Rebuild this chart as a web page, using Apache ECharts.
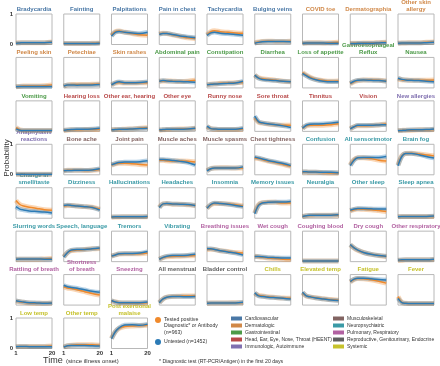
<!DOCTYPE html>
<html>
<head>
<meta charset="utf-8">
<script src="https://cdn.jsdelivr.net/npm/echarts@6/dist/echarts.min.js"></script>
<style>
  html, body { margin: 0; padding: 0; background: #fff; }
  #chart { width: 440px; height: 366px; }
</style>
</head>
<body>
<div id="chart"></div>
<script>
// days sampled along the x axis (time since illness onset)
var days = [1, 3, 5, 8, 12, 16, 20]

var symptoms = [
  'Bradycardia', 'Fainting', 'Palpitations', 'Pain in chest', 'Tachycardia', 'Bulging veins', 'COVID toe', 'Dermatographia', 'Other skin\nallergy',
  'Peeling skin', 'Petechiae', 'Skin rashes', 'Abdominal pain', 'Constipation', 'Diarrhea', 'Loss of appetite', 'Gastroesophageal\nReflux', 'Nausea',
  'Vomiting', 'Hearing loss', 'Other ear, hearing', 'Other eye', 'Runny nose', 'Sore throat', 'Tinnitus', 'Vision', 'New allergies',
  'Anaphylaxis\nreactions', 'Bone ache', 'Joint pain', 'Muscle aches', 'Muscle spasms', 'Chest tightness', 'Confusion', 'All sensorimotor', 'Brain fog',
  'Change in\nsmell/taste', 'Dizziness', 'Hallucinations', 'Headaches', 'Insomnia', 'Memory issues', 'Neuralgia', 'Other sleep', 'Sleep apnea',
  'Slurring words', 'Speech, language', 'Tremors', 'Vibrating', 'Breathing issues', 'Wet cough', 'Coughing blood', 'Dry cough', 'Other respiratory',
  'Rattling of breath', 'Shortness\nof breath', 'Sneezing', 'All menstrual', 'Bladder control', 'Chills', 'Elevated temp', 'Fatigue', 'Fever',
  'Low temp', 'Other temp', 'Post exertional\nmalaise',
]

// index into categories for each symptom
var groups = [
  0, 0, 0, 0, 0, 0, 1, 1, 1,
  1, 1, 1, 2, 2, 2, 2, 2, 2,
  2, 3, 3, 3, 3, 3, 3, 3, 4,
  4, 5, 5, 5, 5, 5, 6, 6, 6,
  6, 6, 6, 6, 6, 6, 6, 6, 6,
  6, 6, 6, 6, 7, 7, 7, 7, 7,
  7, 7, 7, 8, 8, 9, 9, 9, 9,
  9, 9, 9,
]

var categories = [
  'Cardiovascular', 'Dermatologic', 'Gastrointestinal', 'Head, Ear, Eye, Nose, Throat (HEENT)', 'Immunologic, Autoimmune',
  'Musculoskeletal', 'Neuropsychiatric', 'Pulmonary, Respiratory', 'Reproductive, Genitourinary, Endocrine', 'Systemic',
]
var categoryColors = ['#4a78a6', '#d08848', '#4c9a48', '#b84848', '#8070b0', '#826462', '#3a9aa6', '#b262a2', '#606060', '#c6c22c']

// probability, tested positive (orange)
var tested = [
  [0.05, 0.06, 0.06, 0.06, 0.06, 0.06, 0.08], [0.03, 0.03, 0.03, 0.03, 0.03, 0.04, 0.05], [0.3, 0.42, 0.44, 0.4, 0.36, 0.32, 0.3],
  [0.35, 0.37, 0.36, 0.32, 0.27, 0.22, 0.2], [0.32, 0.42, 0.45, 0.42, 0.4, 0.38, 0.37], [0.05, 0.08, 0.1, 0.11, 0.1, 0.1, 0.11],
  [0.04, 0.05, 0.06, 0.06, 0.05, 0.06, 0.07], [0.03, 0.04, 0.04, 0.05, 0.05, 0.06, 0.07], [0.04, 0.05, 0.05, 0.06, 0.06, 0.07, 0.08],

  [0.04, 0.05, 0.06, 0.06, 0.06, 0.07, 0.1], [0.06, 0.1, 0.11, 0.11, 0.11, 0.12, 0.13], [0.1, 0.16, 0.18, 0.16, 0.16, 0.17, 0.17],
  [0.22, 0.23, 0.23, 0.22, 0.21, 0.22, 0.25], [0.1, 0.12, 0.13, 0.15, 0.16, 0.17, 0.18], [0.42, 0.33, 0.3, 0.28, 0.25, 0.22, 0.2],
  [0.5, 0.42, 0.35, 0.28, 0.24, 0.22, 0.23], [0.13, 0.2, 0.24, 0.26, 0.26, 0.25, 0.23], [0.3, 0.27, 0.26, 0.25, 0.25, 0.25, 0.26],

  [0.12, 0.05, 0.03, 0.03, 0.03, 0.03, 0.03], [0.03, 0.04, 0.05, 0.05, 0.06, 0.06, 0.07], [0.05, 0.06, 0.06, 0.07, 0.08, 0.1, 0.12],
  [0.04, 0.05, 0.06, 0.07, 0.08, 0.08, 0.1], [0.15, 0.09, 0.07, 0.06, 0.06, 0.06, 0.08], [0.45, 0.3, 0.27, 0.24, 0.22, 0.2, 0.2],
  [0.1, 0.18, 0.2, 0.2, 0.2, 0.22, 0.25], [0.08, 0.15, 0.18, 0.18, 0.19, 0.21, 0.24], [0.02, 0.03, 0.04, 0.04, 0.05, 0.05, 0.06],

  [0.02, 0.02, 0.02, 0.02, 0.02, 0.02, 0.02], [0.13, 0.15, 0.15, 0.15, 0.14, 0.15, 0.17], [0.32, 0.36, 0.38, 0.38, 0.36, 0.34, 0.32],
  [0.48, 0.48, 0.46, 0.45, 0.45, 0.44, 0.42], [0.14, 0.2, 0.22, 0.23, 0.23, 0.22, 0.22], [0.55, 0.53, 0.5, 0.45, 0.4, 0.34, 0.28],
  [0.09, 0.09, 0.08, 0.08, 0.07, 0.06, 0.06], [0.32, 0.5, 0.56, 0.56, 0.53, 0.48, 0.45], [0.32, 0.62, 0.7, 0.71, 0.68, 0.65, 0.62],

  [0.58, 0.45, 0.4, 0.36, 0.32, 0.28, 0.26], [0.4, 0.42, 0.42, 0.4, 0.38, 0.36, 0.3], [0.04, 0.04, 0.04, 0.05, 0.05, 0.05, 0.05],
  [0.36, 0.47, 0.48, 0.46, 0.46, 0.44, 0.42], [0.33, 0.44, 0.48, 0.48, 0.47, 0.44, 0.4], [0.17, 0.44, 0.51, 0.52, 0.52, 0.5, 0.5],
  [0.05, 0.08, 0.09, 0.1, 0.1, 0.1, 0.1], [0.24, 0.28, 0.3, 0.29, 0.28, 0.25, 0.22], [0.05, 0.06, 0.06, 0.06, 0.06, 0.06, 0.06],

  [0.08, 0.08, 0.08, 0.08, 0.08, 0.09, 0.1], [0.16, 0.3, 0.36, 0.38, 0.4, 0.42, 0.43], [0.18, 0.22, 0.25, 0.26, 0.26, 0.26, 0.28],
  [0.08, 0.13, 0.16, 0.17, 0.18, 0.19, 0.2], [0.4, 0.41, 0.4, 0.36, 0.33, 0.3, 0.28], [0.18, 0.16, 0.14, 0.12, 0.1, 0.08, 0.07],
  [0.02, 0.02, 0.02, 0.02, 0.02, 0.02, 0.02], [0.55, 0.45, 0.37, 0.3, 0.24, 0.2, 0.17], [0.05, 0.05, 0.06, 0.06, 0.06, 0.06, 0.07],

  [0.13, 0.11, 0.09, 0.07, 0.06, 0.06, 0.07], [0.6, 0.56, 0.54, 0.5, 0.44, 0.38, 0.33], [0.14, 0.1, 0.08, 0.07, 0.07, 0.07, 0.08],
  [0.08, 0.2, 0.26, 0.28, 0.29, 0.3, 0.3], [0.06, 0.07, 0.07, 0.07, 0.07, 0.08, 0.08], [0.38, 0.32, 0.3, 0.27, 0.25, 0.23, 0.22],
  [0.4, 0.3, 0.27, 0.24, 0.21, 0.18, 0.16], [0.76, 0.84, 0.87, 0.86, 0.83, 0.78, 0.72], [0.28, 0.09, 0.06, 0.05, 0.05, 0.05, 0.05],

  [0.06, 0.07, 0.07, 0.07, 0.07, 0.07, 0.08], [0.05, 0.09, 0.11, 0.12, 0.12, 0.12, 0.11], [0.33, 0.55, 0.66, 0.72, 0.74, 0.75, 0.76],
]

// probability, untested (blue)
var untested = [
  [0.04, 0.05, 0.06, 0.06, 0.06, 0.06, 0.07], [0.03, 0.03, 0.03, 0.03, 0.03, 0.03, 0.04], [0.28, 0.4, 0.43, 0.4, 0.38, 0.36, 0.4],
  [0.33, 0.36, 0.36, 0.33, 0.28, 0.25, 0.22], [0.3, 0.38, 0.4, 0.37, 0.35, 0.33, 0.3], [0.04, 0.07, 0.09, 0.1, 0.1, 0.1, 0.09],
  [0.04, 0.05, 0.05, 0.05, 0.05, 0.04, 0.04], [0.03, 0.03, 0.04, 0.04, 0.04, 0.05, 0.06], [0.04, 0.05, 0.05, 0.05, 0.05, 0.06, 0.07],

  [0.04, 0.05, 0.05, 0.05, 0.05, 0.05, 0.05], [0.06, 0.1, 0.1, 0.09, 0.1, 0.1, 0.11], [0.1, 0.17, 0.2, 0.17, 0.17, 0.18, 0.2],
  [0.22, 0.24, 0.23, 0.22, 0.21, 0.2, 0.19], [0.1, 0.12, 0.13, 0.14, 0.15, 0.16, 0.22], [0.42, 0.32, 0.28, 0.26, 0.24, 0.22, 0.2],
  [0.48, 0.4, 0.33, 0.27, 0.22, 0.2, 0.2], [0.15, 0.22, 0.25, 0.26, 0.25, 0.24, 0.22], [0.32, 0.28, 0.26, 0.25, 0.24, 0.22, 0.2],

  [0.08, 0.04, 0.03, 0.03, 0.03, 0.03, 0.03], [0.04, 0.05, 0.06, 0.07, 0.07, 0.08, 0.1], [0.05, 0.06, 0.07, 0.07, 0.08, 0.09, 0.1],
  [0.05, 0.06, 0.07, 0.07, 0.07, 0.08, 0.1], [0.17, 0.09, 0.08, 0.07, 0.07, 0.07, 0.1], [0.5, 0.32, 0.28, 0.25, 0.22, 0.18, 0.13],
  [0.1, 0.2, 0.23, 0.24, 0.25, 0.27, 0.3], [0.08, 0.15, 0.2, 0.2, 0.2, 0.21, 0.22], [0.02, 0.03, 0.04, 0.05, 0.05, 0.06, 0.08],

  [0.02, 0.02, 0.02, 0.02, 0.02, 0.02, 0.02], [0.13, 0.14, 0.14, 0.15, 0.15, 0.16, 0.2], [0.33, 0.37, 0.4, 0.42, 0.42, 0.43, 0.46],
  [0.5, 0.5, 0.49, 0.47, 0.44, 0.4, 0.32], [0.13, 0.2, 0.22, 0.22, 0.22, 0.22, 0.26], [0.58, 0.55, 0.52, 0.47, 0.42, 0.37, 0.3],
  [0.1, 0.1, 0.09, 0.09, 0.08, 0.08, 0.07], [0.3, 0.48, 0.56, 0.57, 0.57, 0.57, 0.6], [0.3, 0.6, 0.7, 0.7, 0.66, 0.6, 0.55],

  [0.38, 0.3, 0.27, 0.24, 0.22, 0.2, 0.17], [0.42, 0.43, 0.42, 0.4, 0.38, 0.35, 0.27], [0.04, 0.05, 0.05, 0.05, 0.05, 0.05, 0.06],
  [0.35, 0.47, 0.48, 0.47, 0.46, 0.45, 0.42], [0.33, 0.45, 0.5, 0.48, 0.46, 0.42, 0.38], [0.15, 0.42, 0.5, 0.52, 0.53, 0.53, 0.55],
  [0.06, 0.08, 0.1, 0.1, 0.1, 0.1, 0.11], [0.26, 0.3, 0.32, 0.32, 0.31, 0.3, 0.3], [0.05, 0.06, 0.06, 0.06, 0.06, 0.06, 0.07],

  [0.08, 0.09, 0.09, 0.09, 0.09, 0.08, 0.08], [0.15, 0.3, 0.38, 0.4, 0.4, 0.42, 0.45], [0.18, 0.22, 0.26, 0.27, 0.27, 0.28, 0.33],
  [0.08, 0.14, 0.18, 0.2, 0.2, 0.21, 0.24], [0.42, 0.42, 0.4, 0.36, 0.32, 0.28, 0.22], [0.17, 0.17, 0.16, 0.14, 0.13, 0.12, 0.12],
  [0.02, 0.02, 0.02, 0.02, 0.02, 0.02, 0.02], [0.56, 0.45, 0.38, 0.3, 0.24, 0.2, 0.18], [0.05, 0.06, 0.06, 0.06, 0.06, 0.06, 0.08],

  [0.14, 0.12, 0.1, 0.08, 0.07, 0.06, 0.07], [0.65, 0.6, 0.58, 0.55, 0.5, 0.45, 0.42], [0.15, 0.1, 0.08, 0.08, 0.08, 0.08, 0.1],
  [0.08, 0.2, 0.26, 0.28, 0.28, 0.27, 0.28], [0.06, 0.07, 0.07, 0.07, 0.07, 0.07, 0.09], [0.4, 0.3, 0.28, 0.26, 0.24, 0.22, 0.2],
  [0.42, 0.3, 0.27, 0.23, 0.2, 0.17, 0.15], [0.77, 0.85, 0.88, 0.88, 0.86, 0.84, 0.82], [0.22, 0.08, 0.06, 0.05, 0.05, 0.05, 0.05],

  [0.06, 0.07, 0.07, 0.06, 0.06, 0.06, 0.06], [0.05, 0.09, 0.1, 0.1, 0.1, 0.09, 0.08], [0.32, 0.55, 0.68, 0.77, 0.78, 0.76, 0.8],
]

var yTickLabels = ['0', '1']
var xTickLabels = [1, 20]

var ORANGE = '#f08a2c'
var BLUE = '#2c7bb6'

var COLS = 9
var LEFT0 = 16
var STEP_X = 47.75
var PANEL_W = 36
var TOP0 = 14
var STEP_Y = 43.43
var PANEL_H = 30.5

function pairs(values) {
  return values.map(function (v, i) {
    return [days[i], v]
  })
}

function buildOption() {
  var grid = []
  var xAxis = []
  var yAxis = []
  var series = []
  var graphic = []
  var lastRow = Math.floor((symptoms.length - 1) / COLS)

  symptoms.forEach(function (name, i) {
    var row = Math.floor(i / COLS)
    var col = i % COLS
    var left = LEFT0 + col * STEP_X
    var top = TOP0 + row * STEP_Y
    var showY = col === 0 && (row === 0 || row === 3 || row === lastRow)
    var showX = row === lastRow

    grid.push({
      left: left,
      top: top,
      width: PANEL_W,
      height: PANEL_H,
      show: true,
      borderColor: '#b8b8b8',
      borderWidth: 1,
      backgroundColor: '#fff',
    })
    xAxis.push({
      type: 'value',
      gridIndex: i,
      min: 1,
      max: 20,
      axisLine: { show: false },
      axisTick: { show: false },
      splitLine: { show: false },
      axisLabel: {
        show: showX,
        customValues: xTickLabels,
        fontSize: 6,
        fontWeight: 'bold',
        color: '#333',
        margin: 2,
      },
    })
    yAxis.push({
      type: 'value',
      gridIndex: i,
      min: 0,
      max: 1,
      interval: 1,
      axisLine: { show: false },
      axisTick: { show: false },
      splitLine: { show: false },
      axisLabel: {
        show: showY,
        fontSize: 6,
        fontWeight: 'bold',
        color: '#333',
        margin: 3,
        formatter: function (v) {
          return yTickLabels[v]
        },
      },
    })

    // soft bands first, then the lines
    ;[
      [tested[i], ORANGE, 5, 0.35],
      [untested[i], BLUE, 4.5, 0.35],
      [tested[i], ORANGE, 1.5, 1],
      [untested[i], BLUE, 1.5, 1],
    ].forEach(function (s) {
      series.push({
        type: 'line',
        xAxisIndex: i,
        yAxisIndex: i,
        data: pairs(s[0]),
        symbol: 'none',
        smooth: 0.3,
        silent: true,
        lineStyle: { color: s[1], width: s[2], opacity: s[3] },
      })
    })

    graphic.push({
      type: 'text',
      x: left + PANEL_W / 2,
      y: top - 1.5,
      style: {
        text: name,
        fill: categoryColors[groups[i]],
        font: 'bold 6px "Liberation Sans", Arial, sans-serif',
        lineHeight: 7,
        align: 'center',
        verticalAlign: 'bottom',
      },
    })
  })

  // y axis title
  graphic.push({
    type: 'text',
    x: 7,
    y: 158,
    rotation: Math.PI / 2,
    style: {
      text: 'Probability',
      fill: '#333',
      font: '8px "Liberation Sans", Arial, sans-serif',
      align: 'center',
      verticalAlign: 'middle',
    },
  })

  // x axis title
  graphic.push({
    type: 'text',
    x: 43,
    y: 361,
    style: {
      text: '{a|Time} {b|(since illness onset)}',
      fill: '#333',
      verticalAlign: 'middle',
      rich: {
        a: { fontSize: 9, fontFamily: 'Liberation Sans', fill: '#333' },
        b: { fontSize: 6, fontFamily: 'Liberation Sans', fill: '#333' },
      },
    },
  })

  // series legend
  graphic.push(
    { type: 'circle', shape: { cx: 158, cy: 320, r: 3 }, style: { fill: ORANGE } },
    { type: 'circle', shape: { cx: 158, cy: 342, r: 3 }, style: { fill: BLUE } },
    {
      type: 'text',
      x: 164,
      y: 316,
      style: {
        text: 'Tested positive\nDiagnostic* or Antibody\n(n=963)',
        fill: '#333',
        font: '5.2px "Liberation Sans", Arial, sans-serif',
        lineHeight: 6.6,
      },
    },
    {
      type: 'text',
      x: 164,
      y: 342,
      style: {
        text: 'Untested (n=1452)',
        fill: '#333',
        font: '5.2px "Liberation Sans", Arial, sans-serif',
        verticalAlign: 'middle',
      },
    },
    {
      type: 'text',
      x: 159,
      y: 362,
      style: {
        text: '* Diagnostic test (RT-PCR/Antigen) in the first 20 days',
        fill: '#333',
        font: '5.2px "Liberation Sans", Arial, sans-serif',
        verticalAlign: 'middle',
      },
    }
  )

  // category legend
  categories.forEach(function (cat, k) {
    var x = k < 5 ? 231 : 333
    var y = 318.5 + (k % 5) * 7
    graphic.push(
      { type: 'rect', shape: { x: x, y: y - 2, width: 11, height: 4 }, style: { fill: categoryColors[k] } },
      {
        type: 'text',
        x: x + 14,
        y: y,
        style: {
          text: cat,
          fill: '#333',
          font: '5px "Liberation Sans", Arial, sans-serif',
          verticalAlign: 'middle',
        },
      }
    )
  })

  return {
    animation: false,
    backgroundColor: '#fff',
    grid: grid,
    xAxis: xAxis,
    yAxis: yAxis,
    series: series,
    graphic: graphic,
  }
}

var myChart = echarts.init(document.getElementById('chart'))
myChart.setOption(buildOption())
</script>
</body>
</html>
